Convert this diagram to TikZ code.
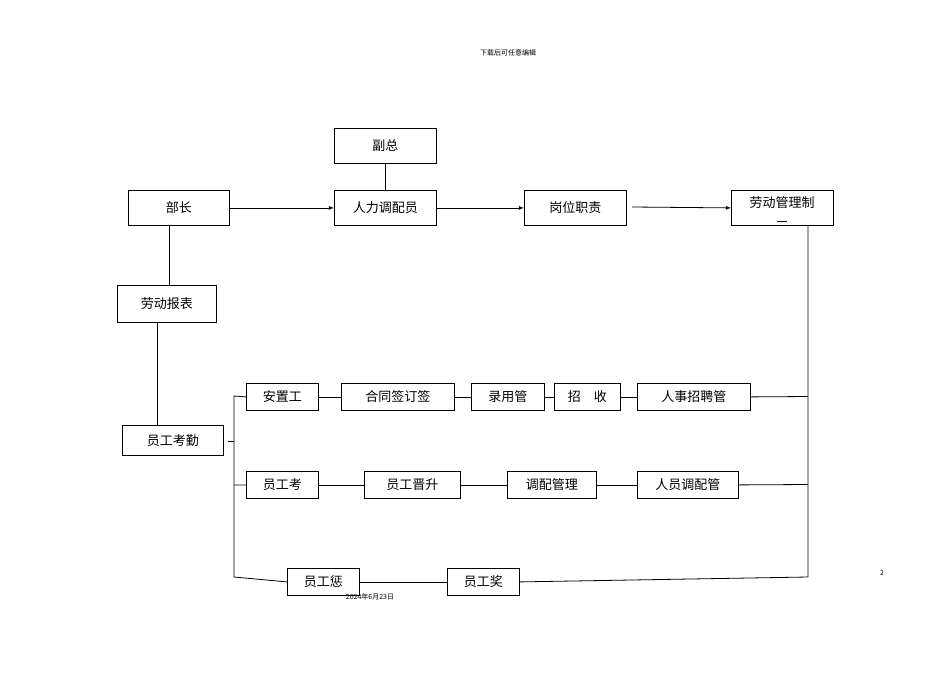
\documentclass[tikz,border=0pt]{standalone}
\usepackage{fontspec}
\setmainfont{Noto Sans CJK SC}
\begin{document}
\begin{tikzpicture}[x=1pt,y=-1pt,line width=0.8pt,
  bx/.style={draw,fill=white,anchor=north west,inner sep=0pt,font=\fontsize{13}{14}\selectfont},
  ar/.style={-latex}]
\useasboundingbox (0,0) rectangle (950,672);
\newcommand\bb[6]{\node[bx,minimum width=#4-#2,minimum height=#5-#3] (#1) at (#2,#3) {#6};}
\bb{fz}{334}{128}{436}{163}{副总}
\bb{bz}{128}{190}{229}{225}{部长}
\bb{rl}{334}{190}{436}{225}{人力调配员}
\bb{gw}{524}{190}{626}{225}{岗位职责}
\node[bx,minimum width=102,minimum height=35,anchor=north west] (ld) at (731,190) {};
\node[font=\fontsize{13}{14}\selectfont] at (782,203) {劳动管理制};
\draw[line width=0.5pt] (777,221) -- (787,221);
\bb{bb1}{117}{285}{216}{322}{劳动报表}
\bb{kq}{122}{425}{223}{455}{员工考勤}
\bb{a1}{246}{383}{318}{410}{安置工}
\bb{a2}{341}{383}{454}{410}{合同签订签}
\bb{a3}{471}{383}{544}{410}{录用管}
\bb{a4}{554}{383}{620}{410}{招\quad 收}
\bb{a5}{637}{383}{750}{410}{人事招聘管}
\bb{b1}{246}{471}{318}{498}{员工考}
\bb{b2}{364}{471}{460}{498}{员工晋升}
\bb{b3}{507}{471}{596}{498}{调配管理}
\bb{b4}{637}{471}{738}{498}{人员调配管}
\bb{c1}{287}{568}{359}{595}{员工惩}
\bb{c2}{447}{568}{519}{595}{员工奖}
\draw (fz.south) -- (rl.north);
\draw[ar] (bz.east) -- (rl.west);
\draw[ar] (rl.east) -- (gw.west);
\draw[ar] (632,207) -- (ld.west);
\draw (169,225) -- (169,285);
\draw (157,322) -- (157,425);
\draw (228,441) -- (234,441);
\draw (a1.west) -- (234,396) -- (234,577) -- (c1.west);
\draw (b1.west) -- (234,485);
\draw (a1)--(a2) (a2)--(a3) (a3)--(a4) (a4)--(a5);
\draw (b1)--(b2) (b2)--(b3) (b3)--(b4);
\draw (c1)--(c2);
\draw (808,225) -- (808,577) -- (c2.east);
\draw (a5.east) -- (808,396.5);
\draw (b4.east) -- (808,484.5);
\node[font=\fontsize{7}{8}\selectfont] at (508,53) {下载后可任意编辑};
\node[font=\fontsize{7}{8}\selectfont] at (370,597) {2024年6月23日};
\node[font=\fontsize{7}{8}\selectfont] at (882,573) {2};
\end{tikzpicture}
\end{document}
